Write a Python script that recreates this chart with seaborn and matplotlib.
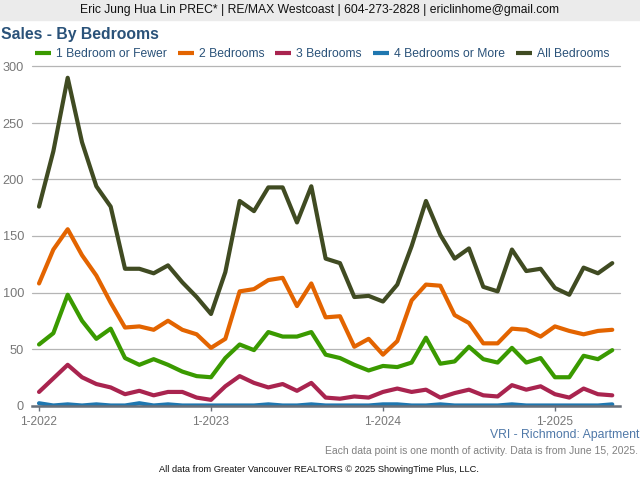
import matplotlib
matplotlib.use("Agg")
import matplotlib.pyplot as plt
from matplotlib.patches import Rectangle
import pandas as pd
import seaborn as sns

months = pd.date_range("2022-01-01", periods=41, freq="MS")
one_bed = [54,64,98,75,59,68,42,36,41,36,30,26,25,42,54,49,65,61,61,65,45,42,36,31,35,34,38,60,37,39,52,41,38,51,38,42,25,25,44,41,49]
two_bed = [108,138,156,133,115,91,69,70,67,75,67,63,51,59,101,103,111,113,88,108,78,79,52,59,45,57,93,107,106,80,73,55,55,68,67,61,70,66,63,66,67]
three_bed = [12,24,36,25,19,16,10,13,9,12,12,7,5,17,26,20,16,19,13,20,7,6,8,7,12,15,12,14,7,11,14,9,8,18,14,17,10,7,15,10,9]
four_bed = [2,0,1,0,1,0,0,2,0,1,0,0,0,0,0,0,1,0,0,1,0,0,0,0,1,1,0,0,1,0,0,0,0,1,0,0,0,0,0,0,1]
all_bed = [176,225,290,233,194,176,121,121,117,124,109,96,81,118,181,172,193,193,162,194,130,126,96,97,92,107,141,181,151,130,139,105,101,138,119,121,104,98,122,117,126]
series_names = ["1 Bedroom or Fewer", "2 Bedrooms", "3 Bedrooms", "4 Bedrooms or More", "All Bedrooms"]
series_values = [one_bed, two_bed, three_bed, four_bed, all_bed]
series_colors = ["#3a9a00", "#e36400", "#a9244f", "#1f77b0", "#404b22"]
y_ticks = [0, 50, 100, 150, 200, 250, 300]
x_tick_idx = [0, 12, 24, 36]
x_tick_labels = ["1-2022", "1-2023", "1-2024", "1-2025"]

df = pd.concat([pd.DataFrame({"m": range(len(months)), "v": v, "s": n})
                for n, v in zip(series_names, series_values)])

sns.set_theme(style="white")
plt.rcParams["font.family"] = ["Liberation Sans", "DejaVu Sans"]

W, H = 640, 480
fig = plt.figure(figsize=(6.4, 4.8), dpi=100, facecolor="white")
ax = fig.add_axes([32/W, 1-405.5/H, 588/W, 339/H])
sns.lineplot(data=df, x="m", y="v", hue="s", palette=dict(zip(series_names, series_colors)),
             hue_order=series_names, linewidth=3.0, ax=ax, legend=False, zorder=3, errorbar=None)
for ln in ax.get_lines():
    ln.set_solid_joinstyle("round")
    ln.set_solid_capstyle("round")
ax.set_xlim(-0.49, 40.54)
ax.set_ylim(0, 300)
ax.set_xlabel("")
ax.set_ylabel("")
ax.set_yticks(y_ticks)
ax.set_xticks(x_tick_idx)
ax.set_xticklabels(x_tick_labels)
ax.grid(axis="y", color="#b5b5b5", linewidth=0.9)
for gl in ax.get_ygridlines():
    gl.set_clip_on(False)
ax.set_axisbelow(True)
for s in ["top", "left", "right"]:
    ax.spines[s].set_visible(False)
ax.spines["bottom"].set_color("#69707a")
ax.spines["bottom"].set_linewidth(1.8)
ax.spines["bottom"].set_zorder(5)
ax.tick_params(axis="y", length=0, pad=5.8, labelsize=9.2, labelcolor="#777777")
ax.tick_params(axis="x", length=3.5, width=1.0, color="#69707a", pad=4.0, labelsize=8.6, labelcolor="#777777", bottom=True)

# Header band and texts
fig.add_artist(Rectangle((0, 1-20/H), 1, 20/H, transform=fig.transFigure, color="#ebebeb", zorder=0))
fig.text(0.5, 1-10.5/H, "Eric Jung Hua Lin PREC* | RE/MAX Westcoast | 604-273-2828 | ericlinhome@gmail.com",
         ha="center", va="center", fontsize=8.72, color="#111111")
fig.text(1/W, 1-34.5/H, "Sales - By Bedrooms", ha="left", va="center", fontsize=11.3,
         fontweight="bold", color="#2a5279")

handles = [plt.Line2D([], [], color=c, linewidth=3.0, solid_capstyle="butt") for c in series_colors]
leg = fig.legend(handles, series_names, loc="center left", bbox_to_anchor=(35/W, 1-54/H), ncol=5,
                 frameon=False, fontsize=8.7, handlelength=1.32, handletextpad=0.41,
                 columnspacing=0.91, borderpad=0, borderaxespad=0)
for t in leg.get_texts():
    t.set_color("#2a5279")

fig.text(639/W, 1-435/H, "VRI - Richmond: Apartment", ha="right", va="center", fontsize=8.8, color="#4f78a8")
fig.text(638/W, 1-451/H, "Each data point is one month of activity. Data is from June 15, 2025.",
         ha="right", va="center", fontsize=7.5, color="#808080")
fig.text(319/W, 1-470/H, "All data from Greater Vancouver REALTORS © 2025 ShowingTime Plus, LLC.",
         ha="center", va="center", fontsize=6.7, color="#111111")

fig.savefig("out.png", dpi=100)
